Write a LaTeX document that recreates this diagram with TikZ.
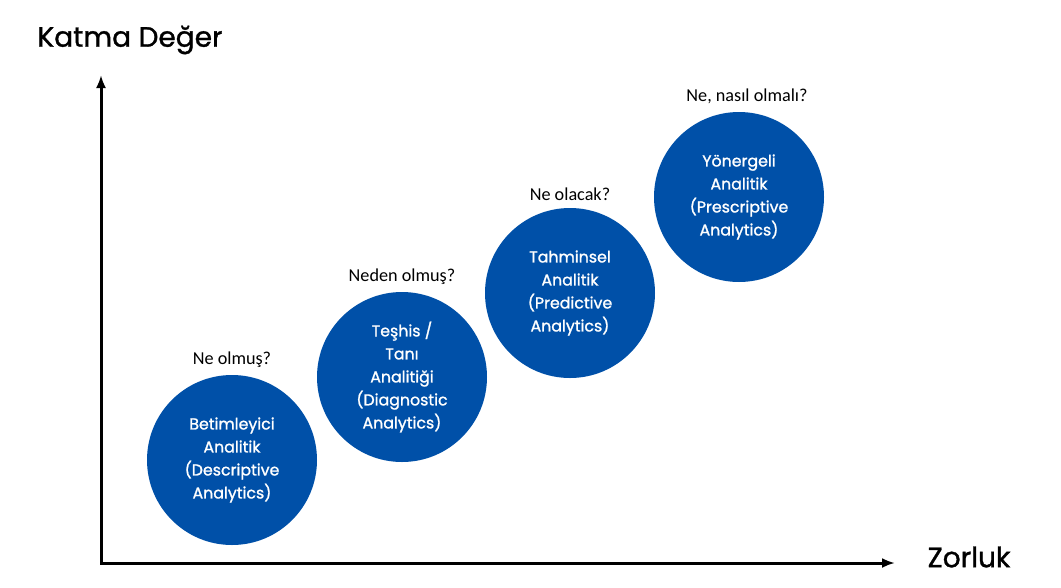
\documentclass[tikz,border=0pt]{standalone}
\usepackage{fontspec}
\setmainfont{Carlito}
\newfontfamily\roundfont[FakeBold=1.2]{Poppins}
\usepackage{xcolor}
\usetikzlibrary{arrows.meta,positioning}
\definecolor{stageblue}{RGB}{0,80,168}

\begin{document}
\begin{tikzpicture}[x=1pt,y=-1pt, node distance=4pt,
stage/.style={circle,fill=stageblue,text=white,minimum size=170pt,inner sep=0pt,align=center,font=\roundfont\fontsize{15.8}{23}\selectfont},
question/.style={font=\fontsize{18.2}{20}\selectfont},
axislabel/.style={font=\roundfont\fontsize{28}{30}\selectfont},
axis/.style={{Latex[length=13pt,width=10pt]}-{Latex[length=13pt,width=10pt]},line width=3pt}]
\useasboundingbox (0,0) rectangle (1061,587);
% axes
\coordinate (ytip) at (101,75);
\coordinate (xtip) at (895,563);
\draw[axis] (ytip) |- (xtip);
\node[axislabel] (value) at (130,40) {Katma Değer};
\node[axislabel] (effort) at (969,557) {Zorluk};
% stages
\node[stage] (desc) at (232,460) {Betimleyici\\Analitik\\(Descriptive\\Analytics)};
\node[stage] (diag) at (402,377) {Teşhis /\\Tanı\\Analitiği\\(Diagnostic\\Analytics)};
\node[stage] (pred) at (570,293) {Tahminsel\\Analitik\\(Predictive\\Analytics)};
\node[stage] (presc) at (739,197) {Yönergeli\\Analitik\\(Prescriptive\\Analytics)};
\node[question,above=of desc] (qdesc) {Ne olmuş?};
\node[question,above=of diag] (qdiag) {Neden olmuş?};
\node[question,above=of pred] (qpred) {Ne olacak?};
\node[question,above=of presc,xshift=8pt] (qpresc) {Ne, nasıl olmalı?};
\end{tikzpicture}
\end{document}
